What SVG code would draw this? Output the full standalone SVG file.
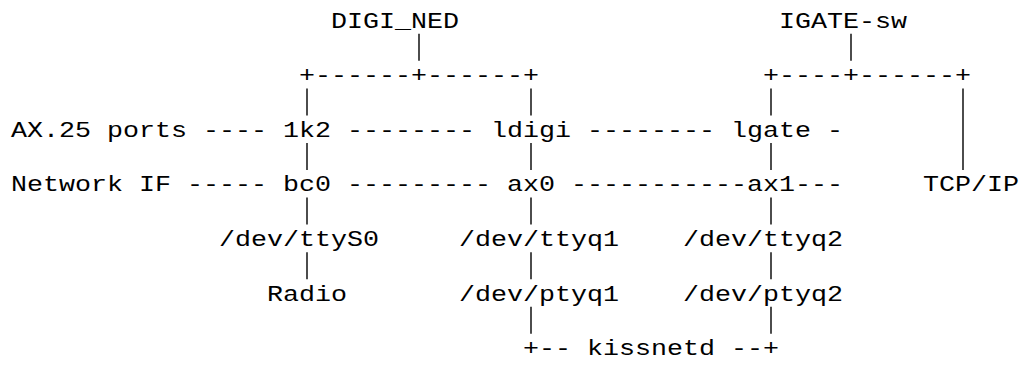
<svg xmlns="http://www.w3.org/2000/svg" width="1019" height="367" viewBox="0 0 1019 367">
<style>
text{font-family:"Liberation Mono","DejaVu Sans Mono",monospace;font-size:22px;fill:#000}
.p{stroke:#000;stroke-width:1.4}
</style>
<rect width="1019" height="367" fill="#fff"/>
<g id="connectors">
<g class="p">
<line x1="419" y1="33.8" x2="419" y2="60.8"/>
<line x1="851" y1="33.8" x2="851" y2="60.8"/>
<line x1="307" y1="88.4" x2="307" y2="115.4"/>
<line x1="531" y1="88.4" x2="531" y2="115.4"/>
<line x1="771" y1="88.4" x2="771" y2="115.4"/>
<line x1="963" y1="88.4" x2="963" y2="170"/>
<line x1="307" y1="143" x2="307" y2="170"/>
<line x1="531" y1="143" x2="531" y2="170"/>
<line x1="771" y1="143" x2="771" y2="170"/>
<line x1="307" y1="197.6" x2="307" y2="224.6"/>
<line x1="531" y1="197.6" x2="531" y2="224.6"/>
<line x1="771" y1="197.6" x2="771" y2="224.6"/>
<line x1="307" y1="252.2" x2="307" y2="279.2"/>
<line x1="531" y1="252.2" x2="531" y2="279.2"/>
<line x1="771" y1="252.2" x2="771" y2="279.2"/>
<line x1="531" y1="306.8" x2="531" y2="333.8"/>
<line x1="771" y1="306.8" x2="771" y2="333.8"/>
</g>
<text x="299" y="82.1" textLength="240" lengthAdjust="spacingAndGlyphs">+------+------+</text>
<text x="763" y="82.1" textLength="208" lengthAdjust="spacingAndGlyphs">+----+------+</text>
<text x="203" y="136.7" textLength="64" lengthAdjust="spacingAndGlyphs">----</text>
<text x="347" y="136.7" textLength="128" lengthAdjust="spacingAndGlyphs">--------</text>
<text x="587" y="136.7" textLength="128" lengthAdjust="spacingAndGlyphs">--------</text>
<text x="827" y="136.7" textLength="16" lengthAdjust="spacingAndGlyphs">-</text>
<text x="187" y="191.3" textLength="80" lengthAdjust="spacingAndGlyphs">-----</text>
<text x="347" y="191.3" textLength="144" lengthAdjust="spacingAndGlyphs">---------</text>
<text x="571" y="191.3" textLength="176" lengthAdjust="spacingAndGlyphs">-----------</text>
<text x="795" y="191.3" textLength="48" lengthAdjust="spacingAndGlyphs">---</text>
<text x="523" y="355.1" textLength="48" lengthAdjust="spacingAndGlyphs">+--</text>
<text x="731" y="355.1" textLength="48" lengthAdjust="spacingAndGlyphs">--+</text>
</g>
<g id="digi_ned"><text x="331" y="27.5" textLength="128" lengthAdjust="spacingAndGlyphs">DIGI_NED</text></g>
<g id="igate_sw"><text x="779" y="27.5" textLength="128" lengthAdjust="spacingAndGlyphs">IGATE-sw</text></g>
<g id="ax25_ports"><text x="11" y="136.7" textLength="176" lengthAdjust="spacingAndGlyphs">AX.25 ports</text></g>
<g id="n1k2"><text x="283" y="136.7" textLength="48" lengthAdjust="spacingAndGlyphs">1k2</text></g>
<g id="ldigi"><text x="491" y="136.7" textLength="80" lengthAdjust="spacingAndGlyphs">ldigi</text></g>
<g id="lgate"><text x="731" y="136.7" textLength="80" lengthAdjust="spacingAndGlyphs">lgate</text></g>
<g id="network_if"><text x="11" y="191.3" textLength="160" lengthAdjust="spacingAndGlyphs">Network IF</text></g>
<g id="bc0"><text x="283" y="191.3" textLength="48" lengthAdjust="spacingAndGlyphs">bc0</text></g>
<g id="ax0"><text x="507" y="191.3" textLength="48" lengthAdjust="spacingAndGlyphs">ax0</text></g>
<g id="ax1"><text x="747" y="191.3" textLength="48" lengthAdjust="spacingAndGlyphs">ax1</text></g>
<g id="tcpip"><text x="923" y="191.3" textLength="96" lengthAdjust="spacingAndGlyphs">TCP/IP</text></g>
<g id="ttyS0"><text x="219" y="245.9" textLength="160" lengthAdjust="spacingAndGlyphs">/dev/ttyS0</text></g>
<g id="ttyq1"><text x="459" y="245.9" textLength="160" lengthAdjust="spacingAndGlyphs">/dev/ttyq1</text></g>
<g id="ttyq2"><text x="683" y="245.9" textLength="160" lengthAdjust="spacingAndGlyphs">/dev/ttyq2</text></g>
<g id="radio"><text x="267" y="300.5" textLength="80" lengthAdjust="spacingAndGlyphs">Radio</text></g>
<g id="ptyq1"><text x="459" y="300.5" textLength="160" lengthAdjust="spacingAndGlyphs">/dev/ptyq1</text></g>
<g id="ptyq2"><text x="683" y="300.5" textLength="160" lengthAdjust="spacingAndGlyphs">/dev/ptyq2</text></g>
<g id="kissnetd"><text x="587" y="355.1" textLength="128" lengthAdjust="spacingAndGlyphs">kissnetd</text></g>
</svg>
